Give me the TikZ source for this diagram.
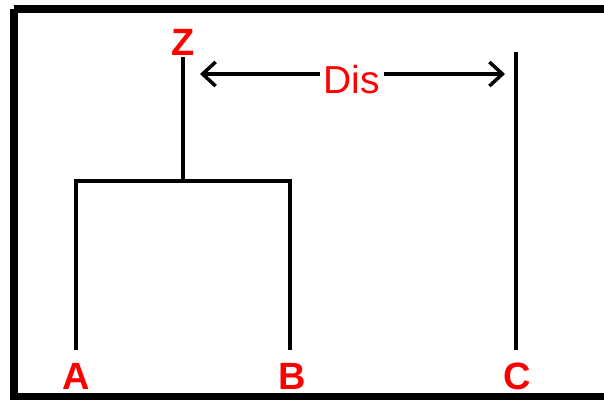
\documentclass[tikz,border=0pt]{standalone}
\usepackage{fontspec}
\setmainfont{Liberation Sans}
\usetikzlibrary{arrows.meta}
\begin{document}
\begin{tikzpicture}[x=1pt,y=-1pt,
  lbl/.style={text=red,font=\fontsize{38}{38}\selectfont\bfseries,inner sep=0pt},
  tree/.style={line width=4pt},
  frame/.style={line width=8pt},
  distarrow/.style={line width=3.5pt,-{Straight Barb[length=13pt,width=24pt,line width=3.5pt]}}]
\useasboundingbox (0,0) rectangle (604,399);
\draw[frame] (13.5,9) -- (612,9) (13.5,9) -- (13.5,397) -- (612,397);
% labels
\node[lbl] (Z) at (183,42) {Z};
\node[lbl] (A) at (76,376) {A};
\node[lbl] (B) at (292,376) {B};
\node[lbl] (C) at (517,376) {C};
% tree coordinates
\coordinate (ztop) at (183,57);
\coordinate (zbot) at (183,181);
\coordinate (atop) at (76,181);
\coordinate (abot) at (76,350);
\coordinate (btop) at (290,181);
\coordinate (bbot) at (290,350);
\coordinate (ctop) at (516,52);
\coordinate (cbot) at (516,350);
\draw[tree] (ztop) -- (zbot);
\draw[tree] (abot) -- (atop) -- (btop) -- (bbot);
\draw[tree] (ctop) -- (cbot);
% distance arrow
\coordinate (dl) at (200,74);
\coordinate (dr) at (505,74);
\node[text=red,font=\fontsize{39}{39}\selectfont,inner sep=4pt] (dis) at (352,80) {Dis};
\draw[distarrow] (dis.west |- dl) -- (dl);
\draw[distarrow] (dis.east |- dr) -- (dr);
\end{tikzpicture}
\end{document}
